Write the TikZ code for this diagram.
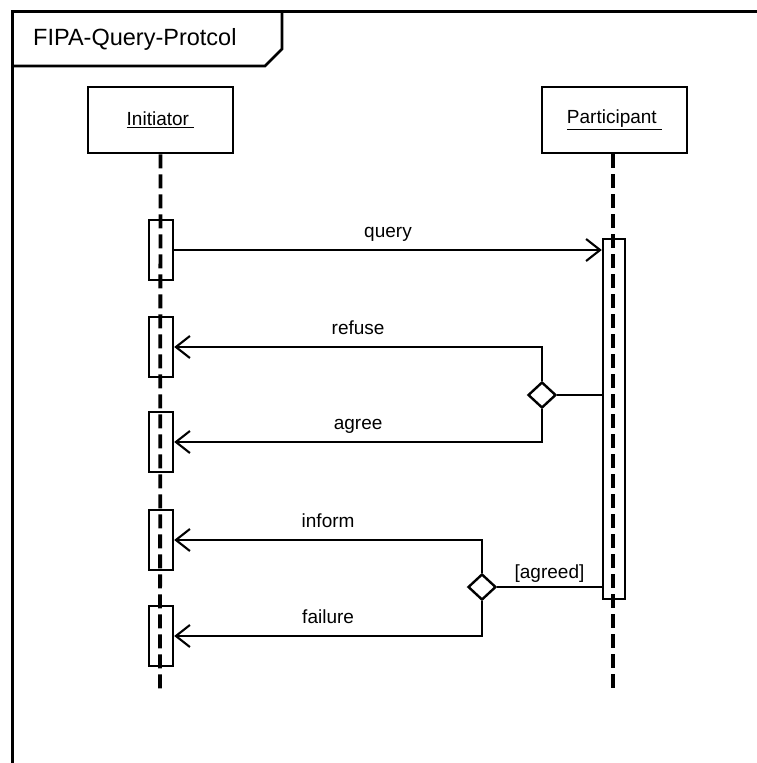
\documentclass[tikz,border=0pt]{standalone}
\usepackage{fontspec}
\setmainfont{Liberation Sans}
\usetikzlibrary{arrows.meta,shapes.geometric}

\begin{document}
\begin{tikzpicture}[x=1pt,y=-1pt,
  every node/.style={font=\fontsize{19}{22}\selectfont},
  frame/.style={line width=3pt},
  objbox/.style={draw,line width=2.6pt,minimum width=145pt,minimum height=66pt,inner sep=0pt},
  lifeline/.style={line width=3.8pt,dash pattern=on 14pt off 6pt},
  actbar/.style={draw,line width=2.4pt,minimum width=24pt,minimum height=60pt,inner sep=0pt},
  choice/.style={draw,diamond,line width=2.4pt,minimum width=28pt,minimum height=26pt,inner sep=0pt},
  conn/.style={line width=2.1pt},
  msg/.style={conn,-{Straight Barb[length=14pt,width=22pt]}},
  msglabel/.style={anchor=base,yshift=13pt,inner sep=0pt},
  guard/.style={anchor=base,yshift=9pt,inner sep=0pt}]
\useasboundingbox (0,0) rectangle (757,763);

% frame and title tab
\draw[frame] (757,11) -- (12.5,11) -- (12.5,763);
\draw[line width=2.6pt] (12.5,66) -- (265,66) -- (282,49) -- (282,11);
\node[anchor=base west,inner sep=0pt,font=\fontsize{23.5}{27}\selectfont] (title) at (33,45) {FIPA-Query-Protcol};

% objects
\node[objbox] (init) at (160.5,120) {\underline{Initiator~}};
\node[objbox] (part) at (614.5,120) {\underline{Participant~}};

% lifelines
\coordinate (initEnd) at (160,692);
\coordinate (partEnd) at (613,692);
\draw[lifeline] (init.south) -- (initEnd);
\draw[lifeline] (part.south -| partEnd) -- (partEnd);

% activations
\node[actbar] (act1) at (161,250) {};
\node[actbar] (act2) at (161,347) {};
\node[actbar] (act3) at (161,442) {};
\node[actbar] (act4) at (161,540) {};
\node[actbar] (act5) at (161,636) {};
\node[actbar,minimum width=22pt,minimum height=360pt] (pact) at (614,419) {};

% decisions
\node[choice] (d1) at (542,395) {};
\node[choice] (d2) at (482,587) {};

% messages
\draw[msg] (act1.east) -- (act1.east -| pact.west) node[midway,msglabel] {query};
\draw[conn] (pact.west |- d1) -- (d1.east);
\draw[msg] (d1.north) |- (act2.east) node[pos=0.75,msglabel] {refuse};
\draw[msg] (d1.south) |- (act3.east) node[pos=0.75,msglabel] {agree};
\draw[conn] (pact.west |- d2) -- (d2.east) node[midway,guard] {[agreed]};
\draw[msg] (d2.north) |- (act4.east) node[pos=0.75,msglabel] {inform};
\draw[msg] (d2.south) |- (act5.east) node[pos=0.75,msglabel] {failure};
\end{tikzpicture}
\end{document}
